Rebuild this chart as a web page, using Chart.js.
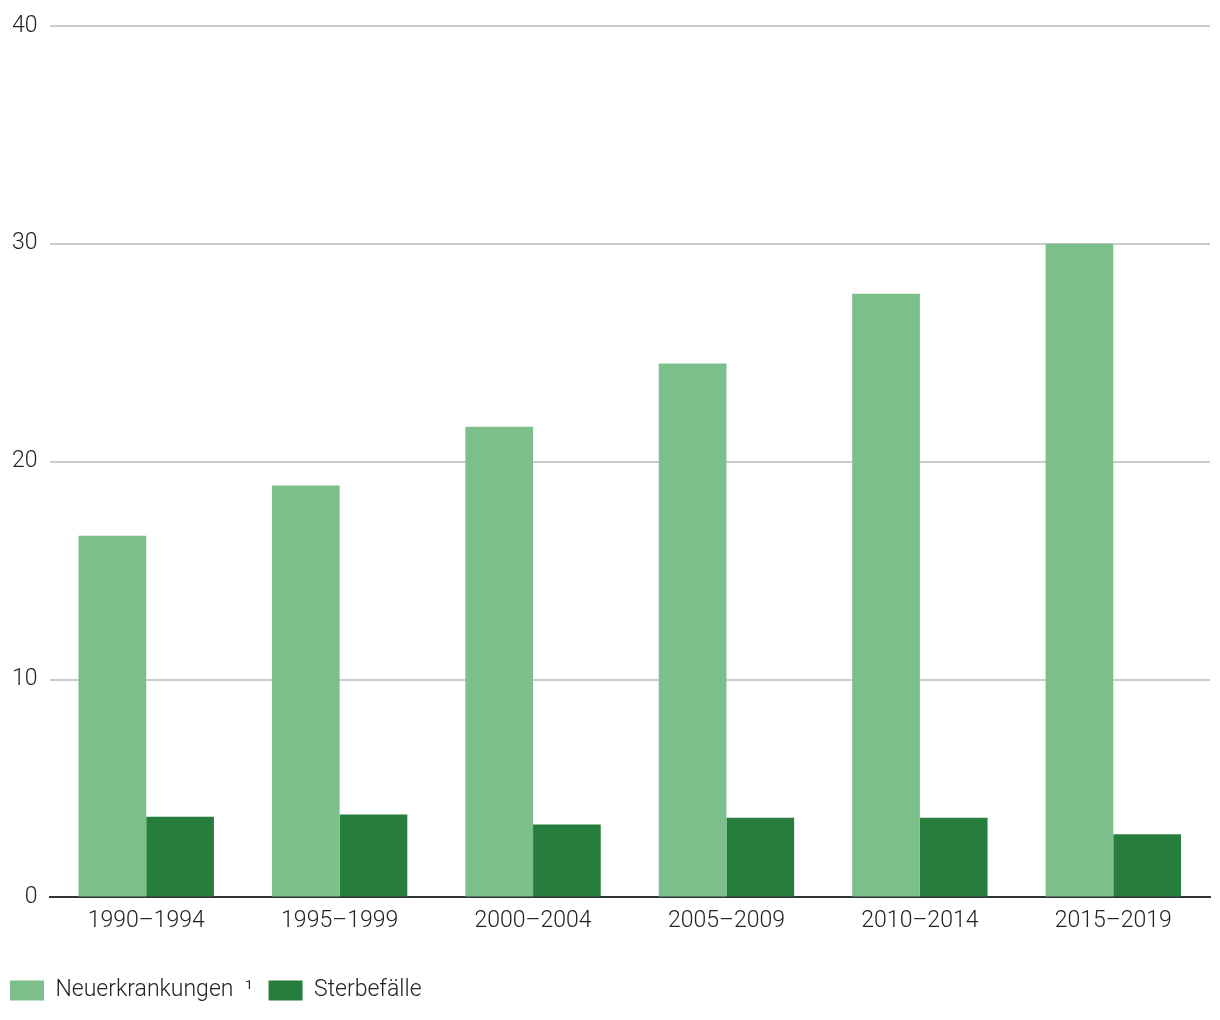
<!DOCTYPE html>
<html>
<head>
<meta charset="utf-8">
<script src="https://cdn.jsdelivr.net/npm/chart.js@4.4.1/dist/chart.umd.min.js"></script>
<style>
  html, body { margin: 0; padding: 0; background: #fff; }
  #wrap { width: 1220px; height: 1020px; }
</style>
</head>
<body>
<div id="wrap"><canvas id="chart"></canvas></div>
<script>
const categories = ['1990–1994', '1995–1999', '2000–2004', '2005–2009', '2010–2014', '2015–2019'];
const neuerkrankungen = [16.6, 18.9, 21.6, 24.5, 27.7, 30.0];
const sterbefaelle = [3.7, 3.8, 3.35, 3.65, 3.65, 2.9];
const yTicks = [0, 10, 20, 30, 40];

Chart.defaults.font.family = 'Roboto';
Chart.defaults.font.weight = 300;
Chart.defaults.font.size = 23;
Chart.defaults.color = '#222';

new Chart(document.getElementById('chart'), {
    type: 'bar',
    data: {
        labels: categories,
        datasets: [
            {
                label: 'Neuerkrankungen  ¹ ',
                data: neuerkrankungen,
                backgroundColor: '#7dbf8a',
                categoryPercentage: 0.7,
                barPercentage: 1.0,
            },
            {
                label: 'Sterbefälle',
                data: sterbefaelle,
                backgroundColor: '#267d3c',
                categoryPercentage: 0.7,
                barPercentage: 1.0,
            },
        ],
    },
    options: {
        responsive: true,
        maintainAspectRatio: false,
        animation: false,
        layout: {
            padding: { top: 8, right: 10, left: 0, bottom: 8 },
        },
        plugins: {
            tooltip: { enabled: false },
            legend: {
                position: 'bottom',
                align: 'start',
                labels: {
                    boxWidth: 34,
                    boxHeight: 20,
                    padding: 10,
                    color: '#222',
                },
            },
        },
        scales: {
            x: {
                grid: { display: false },
                border: { display: true, color: '#333', width: 2 },
                ticks: { padding: 2, color: '#222' },
                afterFit: (axis) => {
                    // room between the year labels and the legend
                    axis.height += 32;
                },
            },
            y: {
                min: 0,
                max: 40,
                afterBuildTicks: (axis) => {
                    axis.ticks = yTicks.map((v) => ({ value: v }));
                },
                grid: {
                    color: (ctx) => (ctx.tick && ctx.tick.value === 0 ? 'rgba(0,0,0,0)' : '#cccccc'),
                    lineWidth: 2,
                    drawTicks: false,
                },
                border: { display: false },
                ticks: { padding: 12, color: '#222' },
            },
        },
    },
});
</script>
</body>
</html>
